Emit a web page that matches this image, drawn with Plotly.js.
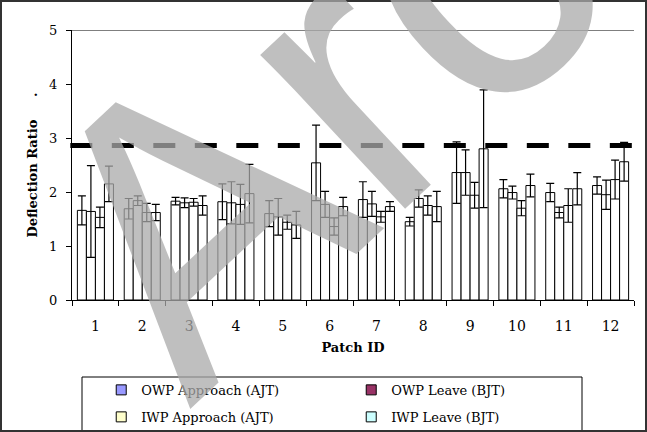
<!DOCTYPE html>
<html>
<head>
<meta charset="utf-8">
<script src="https://cdn.plot.ly/plotly-3.0.1.min.js"></script>
<style>html,body{margin:0;padding:0;background:#fff;}#chart{width:647px;height:432px;}</style>
</head>
<body>
<div id="chart"></div>
<script>
const categories = ["1","2","3","4","5","6","7","8","9","10","11","12"];
const owpApproach    = [1.66,1.69,1.83,1.82,1.60,2.54,1.86,1.45,2.36,2.06,1.99,2.12];
const owpApproachErr = [0.27,0.19,0.07,0.33,0.24,0.70,0.33,0.08,0.57,0.17,0.17,0.16];
const owpLeave       = [1.64,1.84,1.80,1.80,1.54,1.77,1.78,1.88,2.36,1.99,1.62,1.95];
const owpLeaveErr    = [0.85,0.09,0.09,0.39,0.34,0.24,0.23,0.16,0.42,0.12,0.10,0.27];
const iwpApproach    = [1.53,1.62,1.81,1.77,1.44,1.36,1.54,1.75,1.94,1.70,1.75,2.23];
const iwpApproachErr = [0.19,0.17,0.07,0.37,0.13,0.16,0.10,0.18,0.24,0.14,0.31,0.36];
const iwpLeave       = [2.15,1.62,1.75,1.97,1.39,1.73,1.73,1.73,2.80,2.12,2.06,2.56];
const iwpLeaveErr    = [0.33,0.15,0.18,0.54,0.25,0.17,0.09,0.28,1.09,0.21,0.30,0.36];
const seriesNames  = ["OWP Approach (AJT)","OWP Leave (BJT)","IWP Approach (AJT)","IWP Leave (BJT)"];
const legendColors = ["#9999ff","#993366","#ffffcc","#ccffff"];
const threshold = 2.86;
const watermarkText = "Arc";

const serif = "DejaVu Serif, Liberation Serif, serif";
const vals = [owpApproach, owpLeave, iwpApproach, iwpLeave];
const errs = [owpApproachErr, owpLeaveErr, iwpApproachErr, iwpLeaveErr];

const traces = [];
for (let i = 0; i < 4; i++) {
  traces.push({
    type: "bar", x: categories, y: vals[i], name: seriesNames[i], showlegend: false,
    marker: {color: "#ffffff", line: {color: "#000000", width: 1}},
    error_y: {type: "data", array: errs[i], visible: true, color: "#000000", thickness: 1.2, width: 4}
  });
}
for (let i = 0; i < 4; i++) {
  traces.push({
    type: "scatter", mode: "markers", x: [null], y: [null], name: seriesNames[i],
    legend: i < 2 ? "legend" : "legend2",
    marker: {symbol: "square", size: 10, color: legendColors[i], line: {color: "#000000", width: 1}}
  });
}

const legendBase = {
  orientation: "h", xanchor: "left", yanchor: "middle", entrywidth: 205,
  bgcolor: "rgba(0,0,0,0)", borderwidth: 0,
  font: {family: serif, size: 13, color: "#000"}
};

const layout = {
  width: 647, height: 432,
  margin: {l: 72, r: 13, t: 30, b: 132, autoexpand: false},
  paper_bgcolor: "#ffffff", plot_bgcolor: "#ffffff",
  barmode: "group", bargap: 0.23, bargroupgap: 0,
  font: {family: serif, color: "#000"},
  xaxis: {
    type: "category", tickson: "boundaries", ticks: "outside", ticklen: 5, tickcolor: "#000",
    showline: true, linecolor: "#000", linewidth: 1, showgrid: false,
    ticklabelstandoff: 13,
    tickfont: {family: serif, size: 14, color: "#000"},
    title: {text: "<b>Patch ID</b>", font: {family: serif, size: 13, color: "#000"}, standoff: 10},
    automargin: false
  },
  yaxis: {
    range: [0, 5], dtick: 1, ticks: "outside", ticklen: 5, tickcolor: "#000",
    showline: true, linecolor: "#000", linewidth: 1, showgrid: false, zeroline: false,
    ticklabelstandoff: 6,
    tickfont: {family: serif, size: 13, color: "#000"},
    title: {text: "<b>Deflection Ratio\u00a0\u00a0\u00a0\u00a0\u00a0.</b>", font: {family: serif, size: 13, color: "#000"}, standoff: 8},
    automargin: false
  },
  legend: Object.assign({}, legendBase, {x: 0.052, y: -0.333}),
  legend2: Object.assign({}, legendBase, {x: 0.052, y: -0.433}),
  shapes: [
    {type: "line", xref: "paper", yref: "y", x0: 0, x1: 1, y0: 5, y1: 5, line: {color: "#000", width: 1}},
    {type: "line", xref: "paper", yref: "y", x0: -0.003, x1: 1, y0: threshold, y1: threshold, line: {color: "#000", width: 5, dash: "22px,19.5px"}},
    {type: "rect", xref: "paper", yref: "paper", x0: (82-72)/562, x1: (582-72)/562, y0: (300-377)/270, y1: (300-431)/270, line: {color: "#000", width: 1}},
    {type: "rect", xref: "paper", yref: "paper", x0: (1-72)/562, x1: (646-72)/562, y0: (300-1)/270, y1: (300-431)/270, line: {color: "#333", width: 2}}
  ],
  annotations: [
    {xref: "paper", yref: "paper", x: (315-72)/562, y: (300-104)/270, xanchor: "center", yanchor: "middle",
     text: watermarkText, showarrow: false, textangle: -43,
     font: {family: "Liberation Sans, Arial, sans-serif", size: 400, color: "rgba(170,170,170,0.75)"}}
  ]
};

Plotly.newPlot("chart", traces, layout, {staticPlot: true, displayModeBar: false});
</script>
</body>
</html>
